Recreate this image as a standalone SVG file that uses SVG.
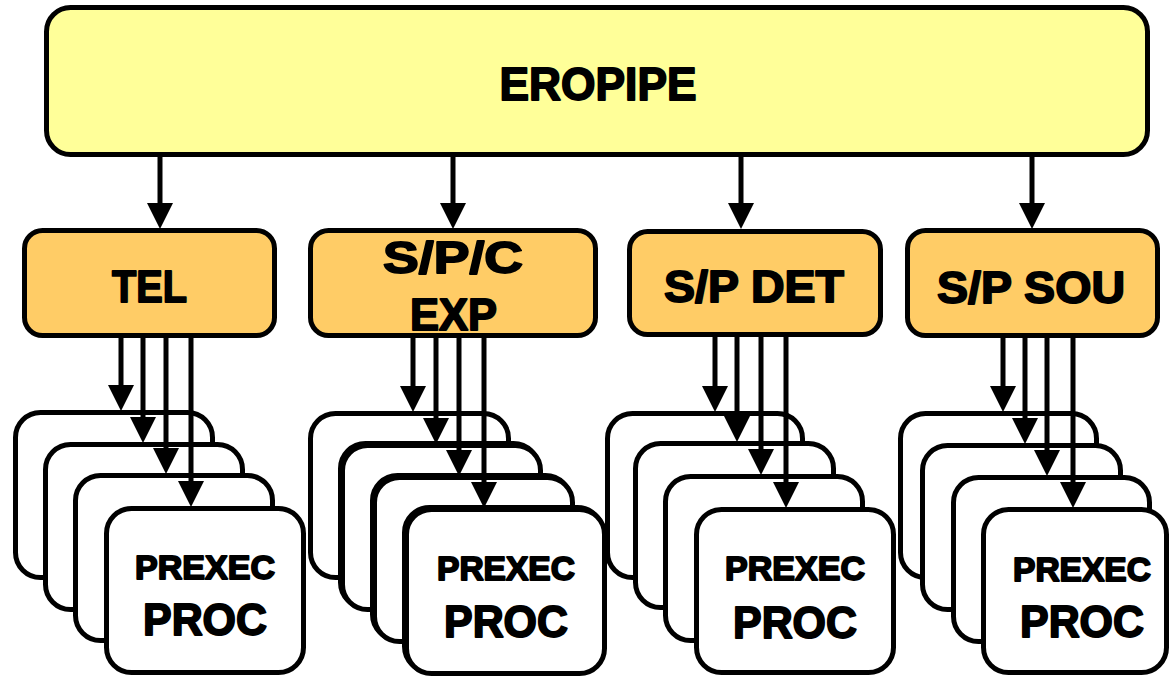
<svg xmlns="http://www.w3.org/2000/svg" width="1171" height="676" viewBox="0 0 1171 676">
  <style>
    .top { fill: #ffff99; stroke: #000; stroke-width: 5; }
    .mid { fill: #ffcc66; stroke: #000; stroke-width: 5; }
    .card { fill: #fff; stroke: #000; stroke-width: 5; }
    .lbl { font-family: "Liberation Sans", Arial, sans-serif; font-weight: bold; fill: #000; stroke: #000; stroke-width: 1.8; stroke-linejoin: round; text-anchor: middle; }
    .big { font-size: 46px; }
    .med { font-size: 44px; }
    .sm { font-size: 33px; }
    .wire { stroke: #000; stroke-width: 5; fill: none; marker-end: url(#head); }
  </style>
  <defs>
    <marker id="head" markerUnits="userSpaceOnUse" markerWidth="26" markerHeight="26" viewBox="0 0 26 26" refX="13" refY="13" orient="auto">
      <path d="M0,0 L26,13 L0,26 Z" fill="#000"/>
    </marker>
  </defs>

  <!-- top-level pipeline -->
  <g id="eropipe">
    <rect class="top" x="46.5" y="7.5" width="1101" height="147" rx="24"/>
    <text class="lbl big" x="598" y="100" textLength="197" lengthAdjust="spacingAndGlyphs">EROPIPE</text>
  </g>

  <!-- stage boxes -->
  <g id="tel">
    <rect class="mid" x="24.5" y="230.5" width="250" height="105" rx="18"/>
    <text class="lbl med" x="149.5" y="302" textLength="75" lengthAdjust="spacingAndGlyphs">TEL</text>
  </g>
  <g id="spc-exp">
    <rect class="mid" x="310.5" y="230.5" width="285" height="105" rx="18"/>
    <text class="lbl med" x="453" y="273" textLength="140" lengthAdjust="spacingAndGlyphs">S/P/C</text>
    <text class="lbl med" x="453.5" y="330" textLength="87" lengthAdjust="spacingAndGlyphs">EXP</text>
  </g>
  <g id="sp-det">
    <rect class="mid" x="629.5" y="231.5" width="251" height="103" rx="18"/>
    <text class="lbl med" x="754" y="302" textLength="180" lengthAdjust="spacingAndGlyphs">S/P DET</text>
  </g>
  <g id="sp-sou">
    <rect class="mid" x="907.5" y="230.5" width="250" height="105" rx="18"/>
    <text class="lbl med" x="1031" y="303" textLength="188" lengthAdjust="spacingAndGlyphs">S/P SOU</text>
  </g>

  <!-- process stacks -->
  <g id="tel-procs">
    <rect class="card" x="15.5" y="412.5" width="197" height="165" rx="25"/>
    <rect class="card" x="45.5" y="444.5" width="197" height="165" rx="25"/>
    <rect class="card" x="75.5" y="475.5" width="197" height="165" rx="25"/>
    <rect class="card" x="106.5" y="508.5" width="197" height="164" rx="25"/>
    <text class="lbl sm" x="205" y="579" textLength="140" lengthAdjust="spacingAndGlyphs">PREXEC</text>
    <text class="lbl med" x="205" y="635" textLength="124" lengthAdjust="spacingAndGlyphs">PROC</text>
  </g>
  <g id="spc-exp-procs">
    <rect class="card" x="310.5" y="413.5" width="198" height="164" rx="25"/>
    <rect class="card" x="340.5" y="443.5" width="198" height="164" rx="25"/>
    <rect class="card" x="342.5" y="445.5" width="198" height="164" rx="25"/>
    <rect class="card" x="372.5" y="475.5" width="198" height="164" rx="25"/>
    <rect class="card" x="374.5" y="477.5" width="198" height="164" rx="25"/>
    <rect class="card" x="404.5" y="507.5" width="198" height="164" rx="25"/>
    <rect class="card" x="406.5" y="509.5" width="198" height="164" rx="25"/>
    <text class="lbl sm" x="506" y="580" textLength="138" lengthAdjust="spacingAndGlyphs">PREXEC</text>
    <text class="lbl med" x="506" y="637" textLength="124" lengthAdjust="spacingAndGlyphs">PROC</text>
  </g>
  <g id="sp-det-procs">
    <rect class="card" x="607.5" y="413.5" width="195" height="164" rx="25"/>
    <rect class="card" x="635.5" y="443.5" width="198" height="164" rx="25"/>
    <rect class="card" x="665.5" y="476.5" width="197" height="164" rx="25"/>
    <rect class="card" x="696.5" y="509.5" width="197" height="163" rx="25"/>
    <text class="lbl sm" x="795" y="580" textLength="140" lengthAdjust="spacingAndGlyphs">PREXEC</text>
    <text class="lbl med" x="795" y="638" textLength="124" lengthAdjust="spacingAndGlyphs">PROC</text>
  </g>
  <g id="sp-sou-procs">
    <rect class="card" x="900.5" y="413.5" width="196" height="164" rx="25"/>
    <rect class="card" x="922.5" y="445.5" width="198" height="164" rx="25"/>
    <rect class="card" x="953.5" y="477.5" width="196" height="164" rx="25"/>
    <rect class="card" x="983.5" y="509.5" width="183" height="163" rx="25"/>
    <text class="lbl sm" x="1082" y="581" textLength="138" lengthAdjust="spacingAndGlyphs">PREXEC</text>
    <text class="lbl med" x="1082" y="637" textLength="124" lengthAdjust="spacingAndGlyphs">PROC</text>
  </g>

  <!-- connectors -->
  <g id="connectors">
    <path class="wire" d="M160,157 V216"/>
    <path class="wire" d="M453,157 V216"/>
    <path class="wire" d="M741,157 V216"/>
    <path class="wire" d="M1032,157 V216"/>

    <path class="wire" d="M121,338 V398"/>
    <path class="wire" d="M143,338 V430"/>
    <path class="wire" d="M166,338 V461"/>
    <path class="wire" d="M191,338 V494"/>

    <path class="wire" d="M413,338 V399"/>
    <path class="wire" d="M436,338 V431"/>
    <path class="wire" d="M459,338 V463"/>
    <path class="wire" d="M484,338 V495"/>

    <path class="wire" d="M715,337 V399"/>
    <path class="wire" d="M737,337 V429"/>
    <path class="wire" d="M761,337 V462"/>
    <path class="wire" d="M786,337 V495"/>

    <path class="wire" d="M1003,338 V399"/>
    <path class="wire" d="M1025,338 V431"/>
    <path class="wire" d="M1047,338 V463"/>
    <path class="wire" d="M1073,338 V495"/>
  </g>
</svg>
